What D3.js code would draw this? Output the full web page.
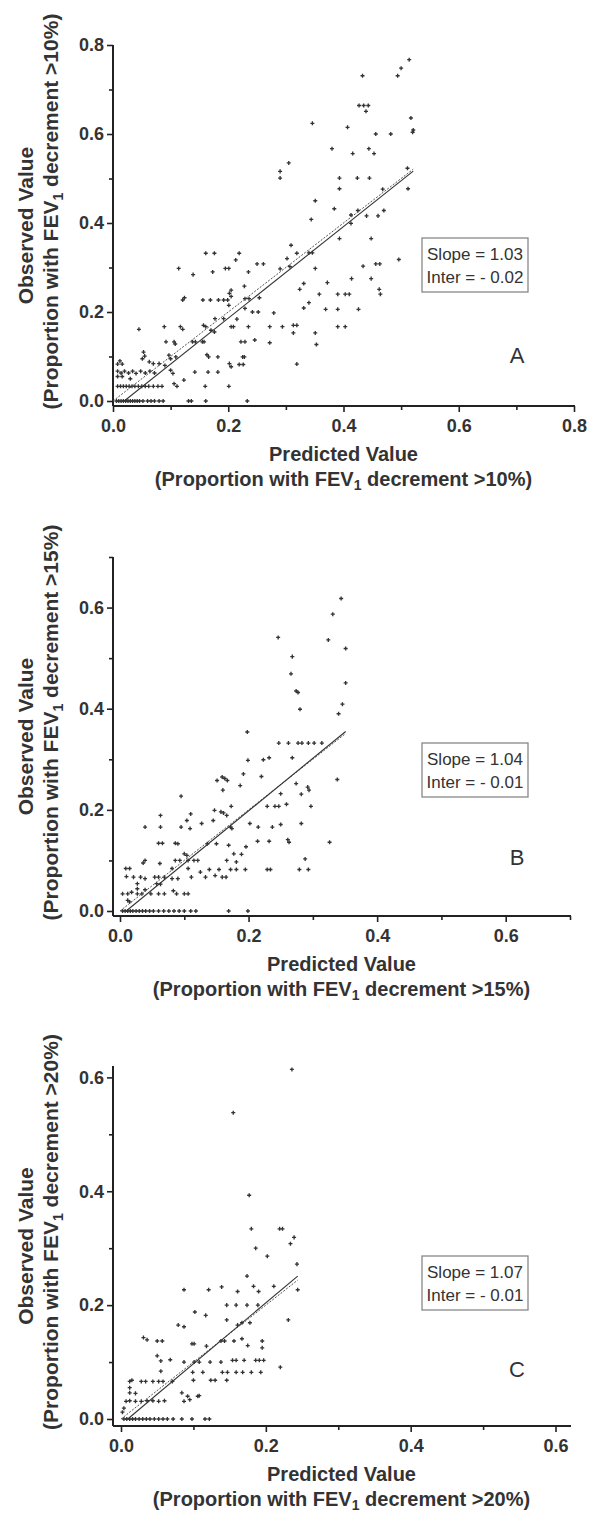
<!DOCTYPE html>
<html>
<head>
<meta charset="utf-8">
<script src="https://cdn.jsdelivr.net/npm/d3@7"></script>
<style>
  body { margin: 0; background: #fff; }
  svg text { font-family: "Liberation Sans", Arial, sans-serif; fill: #333; }
</style>
</head>
<body>
<div id="chart"></div>
<script>
// observed vs predicted proportions
var pointsA = [
    [0.433,0.731],[0.494,0.731],[0.500,0.748],[0.514,0.767],[0.427,0.664],[0.435,0.664],[0.443,0.664],[0.439,0.651],
    [0.346,0.624],[0.407,0.615],[0.517,0.636],[0.521,0.609],[0.520,0.604],[0.456,0.600],[0.482,0.600],[0.380,0.567],
    [0.416,0.556],[0.444,0.567],[0.453,0.556],[0.305,0.535],[0.290,0.516],[0.290,0.501],[0.511,0.523],
    [0.393,0.501],[0.393,0.477],[0.424,0.501],[0.445,0.501],[0.512,0.477],[0.468,0.476],[0.351,0.450],[0.384,0.432],
    [0.344,0.408],[0.413,0.418],[0.413,0.399],[0.425,0.428],[0.440,0.416],[0.460,0.416],[0.470,0.428],[0.393,0.365],
    [0.448,0.365],[0.309,0.350],[0.319,0.332],[0.302,0.320],[0.340,0.333],[0.346,0.333],
    [0.161,0.332],[0.176,0.332],[0.219,0.332],[0.213,0.317],[0.114,0.298],[0.173,0.290],[0.195,0.298],[0.201,0.298],
    [0.139,0.284],[0.235,0.290],[0.250,0.308],[0.261,0.308],[0.290,0.297],[0.307,0.302],[0.351,0.298],[0.496,0.318],
    [0.434,0.303],[0.456,0.308],[0.463,0.308],[0.414,0.275],[0.448,0.275],[0.372,0.266],[0.331,0.264],[0.324,0.251],
    [0.358,0.240],[0.390,0.240],[0.403,0.240],[0.410,0.240],[0.462,0.251],[0.464,0.240],[0.340,0.221],[0.331,0.209],
    [0.369,0.206],[0.390,0.206],[0.426,0.206],[0.390,0.167],[0.403,0.167],[0.351,0.153],[0.353,0.127],[0.313,0.170],
    [0.319,0.170],[0.313,0.153],[0.294,0.167],[0.272,0.167],[0.279,0.198],[0.319,0.083],[0.272,0.131],[0.246,0.137],
    [0.235,0.167],[0.205,0.167],[0.209,0.167],[0.242,0.200],[0.252,0.200],[0.229,0.208],[0.201,0.215],[0.183,0.227],
    [0.192,0.227],[0.199,0.227],[0.156,0.227],[0.169,0.227],[0.205,0.235],[0.202,0.242],[0.205,0.249],[0.228,0.258],
    [0.121,0.227],[0.124,0.232],[0.229,0.230],[0.236,0.230],[0.254,0.232],[0.157,0.170],[0.161,0.167],[0.170,0.159],
    [0.176,0.155],[0.177,0.185],[0.192,0.185],[0.215,0.184],[0.117,0.167],[0.121,0.161],[0.089,0.167],[0.045,0.161],
    [0.092,0.133],[0.106,0.133],[0.108,0.128],[0.138,0.133],[0.143,0.133],[0.155,0.133],[0.158,0.133],[0.222,0.133],
    [0.229,0.133],[0.163,0.104],[0.166,0.099],[0.182,0.099],[0.225,0.099],[0.228,0.099],[0.097,0.103],[0.100,0.095],
    [0.109,0.099],[0.053,0.110],[0.055,0.101],[0.051,0.095],[0.142,0.065],[0.165,0.065],[0.182,0.065],[0.202,0.084],
    [0.205,0.077],[0.219,0.082],[0.226,0.082],[0.123,0.047],[0.160,0.033],[0.201,0.033],[0.111,0.033],[0.106,0.039],
    [0.161,0.000],[0.131,0.000],[0.136,0.000],[0.233,0.000],
    [0.063,0.088],[0.070,0.084],[0.080,0.084],[0.090,0.080],[0.100,0.069],[0.104,0.062],
    [0.006,0],[0.010,0],[0.014,0],[0.018,0],[0.022,0],[0.026,0],[0.030,0],[0.034,0],[0.038,0],[0.042,0],[0.046,0],
    [0.052,0],[0.060,0],[0.066,0],[0.072,0],[0.080,0],[0.087,0],
    [0.008,0.033],[0.013,0.033],[0.018,0.033],[0.023,0.033],[0.028,0.033],[0.033,0.033],[0.038,0.033],[0.044,0.033],
    [0.050,0.033],[0.056,0.033],[0.062,0.033],[0.070,0.033],[0.078,0.033],[0.085,0.033],
    [0.008,0.067],[0.014,0.063],[0.020,0.067],[0.027,0.063],[0.034,0.067],[0.040,0.062],[0.048,0.067],[0.056,0.063],
    [0.064,0.067],[0.072,0.063],[0.008,0.055],[0.016,0.055],[0.030,0.050],
    [0.008,0.083],[0.016,0.083],[0.012,0.090]
];

var pointsB = [
    [0.344,0.618],[0.331,0.587],[0.246,0.541],[0.324,0.536],[0.351,0.519],[0.268,0.503],[0.266,0.469],[0.274,0.435],
    [0.277,0.432],[0.351,0.451],[0.280,0.399],[0.346,0.409],[0.340,0.390],[0.198,0.354],
    [0.247,0.332],[0.262,0.332],[0.277,0.332],[0.283,0.332],[0.293,0.332],[0.302,0.332],[0.314,0.332],
    [0.232,0.303],[0.223,0.299],[0.268,0.303],[0.199,0.298],[0.338,0.260],[0.220,0.266],[0.151,0.258],[0.159,0.265],
    [0.163,0.262],[0.167,0.258],[0.160,0.239],[0.187,0.248],[0.192,0.271],[0.274,0.252],[0.292,0.245],[0.294,0.239],
    [0.250,0.232],[0.282,0.231],[0.297,0.207],[0.229,0.207],[0.241,0.207],[0.247,0.207],[0.259,0.211],[0.147,0.199],
    [0.157,0.196],[0.161,0.194],[0.166,0.189],[0.173,0.207],[0.095,0.227],[0.063,0.189],[0.110,0.192],[0.104,0.179],
    [0.127,0.173],[0.145,0.179],[0.039,0.166],[0.063,0.166],[0.095,0.166],[0.109,0.163],[0.172,0.166],[0.174,0.163],
    [0.202,0.173],[0.215,0.166],[0.237,0.166],[0.250,0.171],[0.282,0.173],
    [0.060,0.134],[0.066,0.134],[0.086,0.134],[0.090,0.133],[0.136,0.133],[0.150,0.133],[0.169,0.130],[0.196,0.127],
    [0.214,0.138],[0.232,0.138],[0.261,0.141],[0.263,0.136],[0.326,0.136],[0.177,0.113],[0.189,0.112],[0.100,0.113],
    [0.104,0.110],[0.039,0.100],[0.036,0.095],[0.062,0.094],[0.086,0.100],[0.093,0.100],[0.106,0.100],[0.115,0.100],
    [0.121,0.100],[0.166,0.100],[0.181,0.097],[0.288,0.103],[0.279,0.082],[0.293,0.082],[0.229,0.082],[0.234,0.082],
    [0.172,0.082],[0.181,0.082],[0.195,0.082],[0.154,0.082],[0.139,0.082],[0.125,0.077],[0.106,0.084],[0.081,0.084],
    [0.009,0.084],[0.015,0.084],
    [0.010,0.068],[0.021,0.067],[0.032,0.067],[0.039,0.064],[0.054,0.067],[0.060,0.067],[0.069,0.067],[0.081,0.064],
    [0.090,0.064],[0.111,0.067],[0.133,0.067],[0.148,0.070],[0.159,0.067],[0.165,0.067],
    [0.057,0.054],[0.063,0.053],[0.027,0.054],
    [0.004,0.034],[0.012,0.034],[0.018,0.037],[0.027,0.034],[0.034,0.034],[0.048,0.034],[0.060,0.034],[0.069,0.034],
    [0.083,0.040],[0.088,0.034],[0.100,0.034],[0.106,0.034],[0.027,0.044],[0.039,0.042],[0.012,0.021],[0.015,0.018],
    [0.004,0],[0.008,0],[0.012,0],[0.016,0],[0.020,0],[0.025,0],[0.030,0],[0.035,0],[0.040,0],[0.046,0],[0.052,0],
    [0.060,0],[0.068,0],[0.076,0],[0.084,0],[0.092,0],[0.100,0],[0.110,0],[0.118,0],[0.169,0],[0.199,0]
];

var pointsC = [
    [0.236,0.614],[0.155,0.538],[0.177,0.393],[0.180,0.334],[0.219,0.334],[0.223,0.334],[0.239,0.319],[0.186,0.300],
    [0.234,0.308],[0.202,0.286],[0.243,0.272],[0.174,0.251],[0.087,0.227],[0.121,0.227],[0.139,0.232],[0.161,0.224],
    [0.183,0.233],[0.190,0.224],[0.211,0.233],[0.244,0.227],[0.146,0.200],[0.159,0.200],[0.174,0.200],[0.189,0.200],
    [0.102,0.188],[0.117,0.182],[0.146,0.174],[0.161,0.165],[0.167,0.169],[0.178,0.169],[0.079,0.165],[0.087,0.162],
    [0.231,0.174],[0.031,0.143],[0.036,0.139],[0.050,0.137],[0.057,0.137],[0.098,0.132],[0.101,0.132],[0.118,0.128],
    [0.138,0.137],[0.143,0.137],[0.156,0.137],[0.167,0.141],[0.175,0.129],[0.195,0.137],[0.195,0.125],[0.050,0.111],
    [0.055,0.102],[0.068,0.104],[0.087,0.100],[0.101,0.100],[0.108,0.100],[0.123,0.100],[0.138,0.100],[0.154,0.103],
    [0.159,0.103],[0.170,0.103],[0.186,0.103],[0.191,0.103],[0.197,0.103],[0.220,0.091],[0.055,0.084],[0.099,0.082],
    [0.113,0.082],[0.140,0.082],[0.147,0.082],[0.159,0.082],[0.168,0.082],[0.180,0.082],[0.193,0.082],
    [0.100,0.068],[0.124,0.068],[0.130,0.068],[0.146,0.068],
    [0.012,0.066],[0.015,0.068],[0.028,0.066],[0.034,0.066],[0.044,0.066],[0.052,0.066],[0.058,0.066],[0.071,0.066],
    [0.012,0.055],[0.012,0.046],[0.020,0.045],[0.084,0.046],[0.092,0.040],[0.106,0.040],[0.108,0.041],
    [0.007,0.031],[0.012,0.032],[0.020,0.031],[0.028,0.031],[0.036,0.032],[0.044,0.032],[0.052,0.031],[0.060,0.032],
    [0.087,0.031],[0.095,0.034],[0.004,0.019],[0.002,0.012],
    [0.004,0],[0.008,0],[0.012,0],[0.016,0],[0.020,0],[0.025,0],[0.030,0],[0.035,0],[0.040,0],[0.046,0],[0.052,0],
    [0.058,0],[0.064,0],[0.072,0],[0.084,0],[0.098,0],[0.116,0],[0.122,0]
];

var panelLetters = ["A", "B", "C"];
var cutoffs = ["10", "15", "20"];
var slopes = [1.03, 1.04, 1.07];
var intercepts = [-0.02, -0.01, -0.01];
var xMaxes = [0.8, 0.7, 0.62];
var yMaxes = [0.8, 0.7, 0.62];
var xTicksA = [0, 0.2, 0.4, 0.6, 0.8];
var yTicksA = [0, 0.2, 0.4, 0.6, 0.8];
var xTicksBC = [0, 0.2, 0.4, 0.6];
var yTicksBC = [0, 0.2, 0.4, 0.6];

var allPoints = [pointsA, pointsB, pointsC];
var xTicks = [xTicksA, xTicksBC, xTicksBC];
var yTicks = [yTicksA, yTicksBC, yTicksBC];

// pixel layout of each panel
var layout = [
    {axisX: 113, x0: 113, x1: 574, y0: 401, y1: 45, axisY: 406, boxY: 238, letterY: 363},
    {axisX: 113, x0: 120, x1: 570, y0: 911, y1: 557, axisY: 916, boxY: 743, letterY: 865},
    {axisX: 113, x0: 121, x1: 570, y0: 1419, y1: 1066, axisY: 1426, boxY: 1256, letterY: 1377}
];

var svgWidth = 591;
var svgHeight = 1516;

var svg = d3.select("#chart").append("svg")
    .attr("width", svgWidth)
    .attr("height", svgHeight);

function minorTicks(max) {
    var out = [];
    for (var v = 0.1; v < max + 0.001; v += 0.2) out.push(+v.toFixed(1));
    return out;
}

function drawPanel(i) {
    var L = layout[i];
    var pts = allPoints[i];
    var g = svg.append("g");

    var xScale = d3.scaleLinear().domain([0, xMaxes[i]]).range([L.x0, L.x1]);
    var yScale = d3.scaleLinear().domain([0, yMaxes[i]]).range([L.y0, L.y1]);

    // x axis
    var xAxis = g.append("g").attr("transform", `translate(0,${L.axisY})`)
        .call(d3.axisBottom(xScale).tickValues(xTicks[i]).tickSize(6).tickPadding(7).tickFormat(d3.format(".1f")));
    var xMinor = g.append("g").attr("transform", `translate(0,${L.axisY})`)
        .call(d3.axisBottom(xScale).tickValues(minorTicks(xMaxes[i])).tickSize(4).tickFormat(""));

    // y axis
    var yAxis = g.append("g").attr("transform", `translate(${L.axisX},0)`)
        .call(d3.axisLeft(yScale).tickValues(yTicks[i]).tickSize(6).tickPadding(3).tickFormat(d3.format(".1f")));
    var yMinor = g.append("g").attr("transform", `translate(${L.axisX},0)`)
        .call(d3.axisLeft(yScale).tickValues(minorTicks(yMaxes[i])).tickSize(4).tickFormat(""));

    [xAxis, xMinor, yAxis, yMinor].forEach(function(a) {
        a.select(".domain").remove();
        a.selectAll("line").attr("stroke", "#222").attr("stroke-width", 1.6);
        a.selectAll("text")
            .style("font-size", "18px")
            .style("font-weight", "bold")
            .attr("fill", "#333");
    });

    // axis lines (y axis runs down to the offset x axis)
    g.append("line")
        .attr("x1", L.axisX).attr("x2", L.axisX)
        .attr("y1", L.y1).attr("y2", L.axisY)
        .attr("stroke", "#222").attr("stroke-width", 2);
    g.append("line")
        .attr("x1", L.axisX).attr("x2", L.x1 + 1)
        .attr("y1", L.axisY).attr("y2", L.axisY)
        .attr("stroke", "#222").attr("stroke-width", 2);

    // points
    g.selectAll("path.pt")
        .data(pts)
        .enter()
        .append("path")
        .attr("class", "pt")
        .attr("d", d3.symbol(d3.symbolCross, 9))
        .attr("transform", d => `translate(${xScale(d[0])},${yScale(d[1])})`)
        .attr("fill", "#333");

    // fitted line and line of identity
    var xEnd = d3.max(pts, d => d[0]);
    var xStart = Math.max(0, -intercepts[i] / slopes[i]);
    g.append("line")
        .attr("x1", xScale(0)).attr("y1", yScale(0))
        .attr("x2", xScale(xEnd)).attr("y2", yScale(xEnd))
        .attr("stroke", "#555").attr("stroke-width", 1)
        .attr("stroke-dasharray", "2,1.5");
    g.append("line")
        .attr("x1", xScale(xStart)).attr("y1", yScale(slopes[i] * xStart + intercepts[i]))
        .attr("x2", xScale(xEnd)).attr("y2", yScale(slopes[i] * xEnd + intercepts[i]))
        .attr("stroke", "#333").attr("stroke-width", 1.1);

    // stats box
    var boxX = 422;
    g.append("rect")
        .attr("x", boxX).attr("y", L.boxY)
        .attr("width", 106).attr("height", 54)
        .attr("fill", "#fff").attr("stroke", "#888").attr("stroke-width", 1.3);
    g.append("text")
        .attr("x", boxX + 53).attr("y", L.boxY + 22)
        .attr("text-anchor", "middle")
        .style("font-size", "17px")
        .text("Slope = " + slopes[i].toFixed(2));
    g.append("text")
        .attr("x", boxX + 53).attr("y", L.boxY + 45)
        .attr("text-anchor", "middle")
        .style("font-size", "17px")
        .text("Inter = - " + Math.abs(intercepts[i]).toFixed(2));

    // panel letter
    g.append("text")
        .attr("x", 517).attr("y", L.letterY)
        .attr("text-anchor", "middle")
        .style("font-size", "22px")
        .text(panelLetters[i]);

    // x axis title
    var midX = (L.axisX + L.x1) / 2;
    g.append("text")
        .attr("x", midX).attr("y", L.axisY + 55)
        .attr("text-anchor", "middle")
        .style("font-size", "20px").style("font-weight", "bold")
        .text("Predicted Value");
    var xt = g.append("text")
        .attr("x", midX).attr("y", L.axisY + 80)
        .attr("text-anchor", "middle")
        .style("font-size", "20px").style("font-weight", "bold");
    xt.append("tspan").text("(Proportion with FEV");
    xt.append("tspan").attr("dy", 4).style("font-size", "14px").text("1");
    xt.append("tspan").attr("dy", -4).text(" decrement >" + cutoffs[i] + "%)");

    // y axis title (rotated)
    var midY = (L.y1 + L.axisY) / 2;
    g.append("text")
        .attr("transform", `translate(33,${midY}) rotate(-90)`)
        .attr("text-anchor", "middle")
        .style("font-size", "21px").style("font-weight", "bold")
        .text("Observed Value");
    var yt = g.append("text")
        .attr("transform", `translate(58,${midY - 14}) rotate(-90)`)
        .attr("text-anchor", "middle")
        .style("font-size", "21px").style("font-weight", "bold");
    yt.append("tspan").text("(Proportion with FEV");
    yt.append("tspan").attr("dy", 5).style("font-size", "14px").text("1");
    yt.append("tspan").attr("dy", -5).text(" decrement >" + cutoffs[i] + "%)");
}

for (var i = 0; i < 3; i++) {
    drawPanel(i);
}
</script>
</body>
</html>
